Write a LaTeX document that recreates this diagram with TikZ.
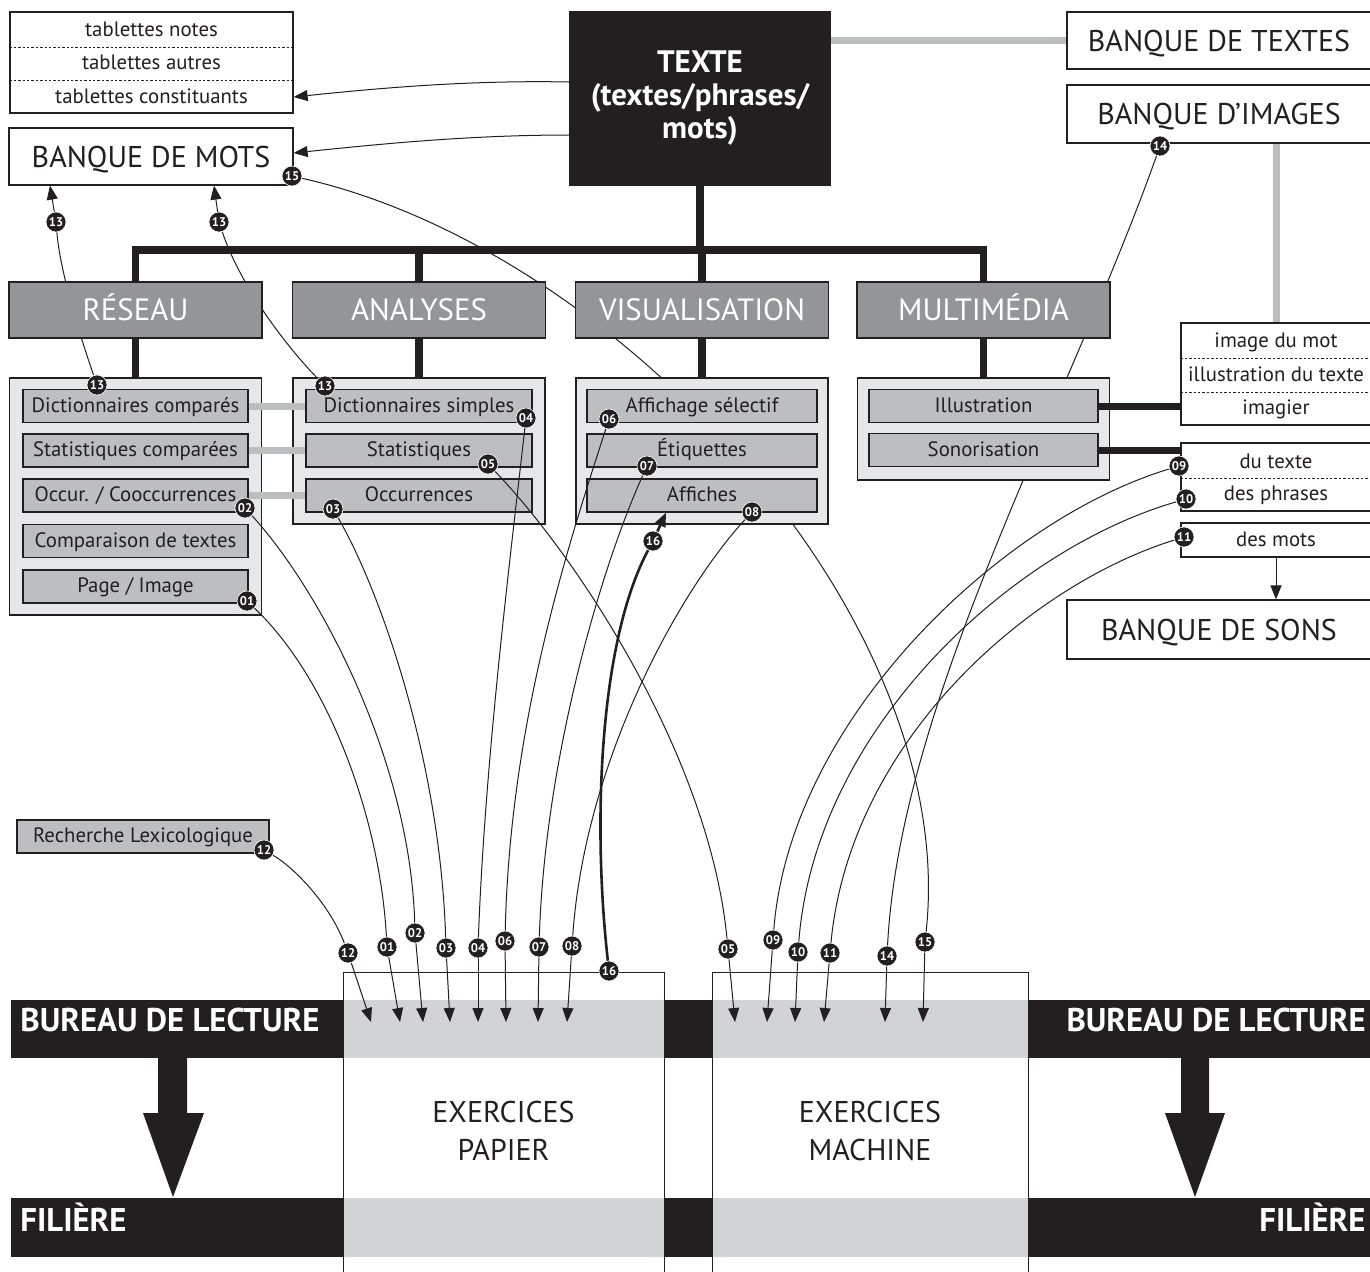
\documentclass[tikz,border=0pt]{standalone}
\usepackage{fontspec}
\setmainfont{PT Sans}
\usetikzlibrary{arrows.meta}
\definecolor{ink}{HTML}{231F20}
\definecolor{catgrey}{HTML}{939598}
\definecolor{grpgrey}{HTML}{E6E7E8}
\definecolor{itmgrey}{HTML}{BCBEC0}
\definecolor{linkgrey}{HTML}{BCBEC0}
\definecolor{colgrey}{HTML}{D1D3D4}
\pgfdeclarelayer{back}
\pgfdeclarelayer{wires}
\pgfdeclarelayer{front}
\pgfsetlayers{back,main,wires,front}
\tikzset{
  boxframe/.style={draw=ink, line width=0.6pt, inner sep=0pt, text=ink},
  bank/.style={boxframe, fill=white, minimum height=28.5pt, font=\fontsize{15}{17}\selectfont, text height=10.6pt, text depth=0pt},
  catbox/.style={boxframe, fill=catgrey, minimum width=126.5pt, minimum height=28pt, text=white, font=\fontsize{15.4}{17}\selectfont, text height=10.8pt, text depth=0pt},
  grp/.style={boxframe, fill=grpgrey, minimum width=126pt},
  itm/.style={boxframe, fill=itmgrey, minimum height=16.5pt, font=\fontsize{10.4}{12}\selectfont, text height=7.4pt, text depth=1pt},
  whitebox/.style={boxframe, fill=white, font=\fontsize{10.4}{12}\selectfont, text height=7.4pt, text depth=1pt},
  lbl/.style={inner sep=0pt, text=ink, font=\fontsize{10.4}{12}\selectfont, text height=7.4pt, text depth=1pt},
  dotsep/.style={draw=ink, line width=0.4pt, dash pattern=on 1.2pt off 1pt},
  badge/.style={circle, fill=ink, draw=white, line width=0.3pt, minimum size=10pt, inner sep=0pt, text=white, font=\bfseries\fontsize{6.3}{7}\selectfont},
  wire/.style={draw=ink, line width=0.5pt},
  endarrow/.style={-{Triangle[length=7pt,width=5.5pt]}},
  blackbar/.style={draw=ink, line width=3.6pt},
  greybar/.style={draw=linkgrey, line width=3.5pt},
  bandtext/.style={inner sep=0pt, text=white, font=\bfseries\fontsize{16.4}{19}\selectfont},
  exotext/.style={inner sep=0pt, text=ink, align=center, font=\fontsize{15}{19}\selectfont},
}
\begin{document}
\begin{tikzpicture}[x=0.5pt, y=-0.5pt]
\useasboundingbox (0,0) rectangle (1370,1271);

% ---------- top boxes
\node[whitebox, minimum width=141.5pt, minimum height=50.5pt] (tab) at (151.5,62.5) {};
\node[lbl] (tn) at (151.5,30) {tablettes notes};
\node[lbl] (ta) at (151.5,63.5) {tablettes autres};
\node[lbl] (tc) at (151.5,97) {tablettes constituants};
\draw[dotsep] (tab.west |- 0,47) -- (tab.east |- 0,47);
\draw[dotsep] (tab.west |- 0,80) -- (tab.east |- 0,80);

\node[bank, minimum width=142pt] (mots) at (151,156.5) {BANQUE DE MOTS};
\node[boxframe, fill=ink, minimum width=130pt, minimum height=86.5pt, text=white, align=center, font=\bfseries\fontsize{15.5}{16.5}\selectfont] (texte) at (700,98.5) {TEXTE\\(textes/phrases/\\mots)};
\node[bank, minimum width=152pt] (btextes) at (1219,40.5) {BANQUE DE TEXTES};
\node[bank, minimum width=152pt, minimum height=29pt] (bimages) at (1219,114) {BANQUE D’IMAGES};

% ---------- categories
\node[catbox] (reseau) at (135.5,310) {RÉSEAU};
\node[catbox] (analyses) at (419,310) {ANALYSES};
\node[catbox] (visu) at (702,310) {VISUALISATION};
\node[catbox] (multi) at (983.5,310) {MULTIMÉDIA};

\draw[blackbar] (texte.south) -- (texte.south |- 0,250);
\draw[blackbar, line join=miter] (reseau.north) -- (reseau.north |- 0,250) -- (multi.north |- 0,250) -- (multi.north);
\draw[blackbar] (analyses.north |- 0,250) -- (analyses.north);
\draw[blackbar] (visu.north |- 0,250) -- (visu.north);

% ---------- groups
\node[grp, minimum height=118.5pt] (greseau) at (135.5,496.5) {};
\node[grp, minimum height=73pt] (ganal) at (419,451) {};
\node[grp, minimum height=73pt] (gvisu) at (702,451) {};
\node[grp, minimum height=51pt] (gmulti) at (983.5,429) {};
\draw[blackbar] (reseau.south) -- (greseau.north);
\draw[blackbar] (analyses.south) -- (ganal.north);
\draw[blackbar] (visu.south) -- (gvisu.north);
\draw[blackbar] (multi.south) -- (gmulti.north);

% ---------- items
\node[itm, minimum width=112.5pt] (dcomp) at (135.5,406) {Dictionnaires comparés};
\node[itm, minimum width=112.5pt] (scomp) at (135.5,450.5) {Statistiques comparées};
\node[itm, minimum width=112.5pt] (occo) at (135.5,495.5) {Occur. / Cooccurrences};
\node[itm, minimum width=112.5pt] (compt) at (135.5,541) {Comparaison de textes};
\node[itm, minimum width=112.5pt] (page) at (135.5,586.5) {Page / Image};

\node[itm, minimum width=113pt] (dsimp) at (419,406) {Dictionnaires simples};
\node[itm, minimum width=113pt] (stat) at (419,450.5) {Statistiques};
\node[itm, minimum width=113pt] (occ) at (419,495.5) {Occurrences};

\node[itm, minimum width=115pt] (affsel) at (702,406) {Affichage sélectif};
\node[itm, minimum width=115pt] (etiq) at (702,450.5) {Étiquettes};
\node[itm, minimum width=115pt] (aff) at (702,495.5) {Affiches};

\node[itm, minimum width=114.5pt] (illu) at (983.5,406) {Illustration};
\node[itm, minimum width=114.5pt] (sono) at (983.5,450) {Sonorisation};

\draw[greybar] (dcomp.east) -- (dsimp.west);
\draw[greybar] (scomp.east) -- (stat.west);
\draw[greybar] (occo.east) -- (occ.west);

% ---------- right side boxes
\node[whitebox, minimum width=95pt, minimum height=51pt] (imgbox) at (1276,374) {};
\node[lbl] (imot) at (1276,341) {image du mot};
\node[lbl] (itxt) at (1276,375) {illustration du texte};
\node[lbl] (imag) at (1276,408) {imagier};
\draw[dotsep] (imgbox.west |- 0,358) -- (imgbox.east |- 0,358);
\draw[dotsep] (imgbox.west |- 0,392) -- (imgbox.east |- 0,392);

\node[whitebox, minimum width=95pt, minimum height=34pt] (sonbox) at (1276,477) {};
\node[lbl] (dutexte) at (1276,462) {du texte};
\node[lbl] (desphr) at (1276,494.5) {des phrases};
\draw[dotsep] (sonbox.west |- 0,478) -- (sonbox.east |- 0,478);

\node[whitebox, minimum width=95pt, minimum height=17pt] (desmots) at (1276,540) {des mots};
\node[bank, minimum width=152pt, minimum height=29.5pt] (bsons) at (1219,629.5) {BANQUE DE SONS};

\draw[blackbar, line width=3.5pt] (illu.east) -- (illu.east -| imgbox.west);
\draw[blackbar, line width=3.5pt] (sono.east) -- (sono.east -| sonbox.west);
\draw[greybar] (imgbox.north |- bimages.south) -- (imgbox.north);
\draw[greybar] (texte.east |- btextes.west) -- (btextes.west);
\draw[wire, endarrow] (desmots.south) -- (desmots.south |- bsons.north);

\node[itm, minimum width=126pt] (rech) at (143,836.5) {Recherche Lexicologique};

% ---------- bottom bands and columns
\fill[ink] (11,1000) rectangle (1372,1058);
\fill[ink] (11,1198) rectangle (1372,1257);
\fill[colgrey] (343,1000) rectangle (664,1058);
\fill[colgrey] (343,1198) rectangle (664,1257);
\fill[colgrey] (712,1000) rectangle (1028,1058);
\fill[colgrey] (712,1198) rectangle (1028,1257);
\node[boxframe, minimum width=160.5pt, minimum height=155pt, anchor=north west] (colp) at (343,972) {};
\node[boxframe, minimum width=158pt, minimum height=155pt, anchor=north west] (colm) at (712,972) {};
\node[exotext] (papier) at (503.5,1131) {EXERCICES\\PAPIER};
\node[exotext] (machine) at (870,1131) {EXERCICES\\MACHINE};

\fill[ink] (158,1057) -- (187,1057) -- (187,1113) -- (204,1113) -- (173,1197) -- (143,1113) -- (158,1113) -- cycle;
\fill[ink] (1181,1057) -- (1209,1057) -- (1209,1113) -- (1225,1113) -- (1195,1197) -- (1165,1113) -- (1181,1113) -- cycle;

\node[bandtext, anchor=base west] (bur1) at (20,1031) {BUREAU DE LECTURE};
\node[bandtext, anchor=base east] (bur2) at (1366,1031) {BUREAU DE LECTURE};
\node[bandtext, anchor=base west] (fil1) at (20,1231) {FILIÈRE};
\node[bandtext, anchor=base east] (fil2) at (1366,1231) {FILIÈRE};

% ---------- badges
\begin{pgfonlayer}{front}
\node[badge] (bu13a) at (97,385) {13};
\node[badge] (bu13b) at (325,386) {13};
\node[badge] (bm13a) at (56,222) {13};
\node[badge] (bm13b) at (219,222) {13};
\node[badge] (bu15) at (292,176) {15};
\node[badge] (bu14) at (1160,146) {14};
\node[badge] (bu01) at (247,601) {01};
\node[badge] (bu02) at (245,508) {02};
\node[badge] (bu03) at (333,509) {03};
\node[badge] (bu04) at (526,418) {04};
\node[badge] (bu05) at (488,464) {05};
\node[badge] (bu06) at (609,419) {06};
\node[badge] (bu07) at (647,466) {07};
\node[badge] (bu08) at (752,512) {08};
\node[badge] (bu16) at (653,541) {16};
\node[badge] (bu09) at (1179,466) {09};
\node[badge] (bu10) at (1186,499) {10};
\node[badge] (bu11) at (1184,537) {11};
\node[badge] (bu12) at (264,850) {12};
\node[badge] (bl12) at (348,953) {12};
\node[badge] (bl01) at (387,947) {01};
\node[badge] (bl02) at (415,933) {02};
\node[badge] (bl03) at (446,948) {03};
\node[badge] (bl04) at (478,948) {04};
\node[badge] (bl06) at (505,941) {06};
\node[badge] (bl07) at (539,947) {07};
\node[badge] (bl08) at (572,946) {08};
\node[badge] (bl16) at (609,971) {16};
\node[badge] (bl05) at (728,949) {05};
\node[badge] (bl09) at (773,940) {09};
\node[badge] (bl10) at (798,952) {10};
\node[badge] (bl11) at (830,953) {11};
\node[badge] (bl14) at (887,956) {14};
\node[badge] (bl15) at (925,942) {15};
\end{pgfonlayer}

\foreach \n/\x in {12/371,01/400,02/423,03/450,04/478,06/506,07/538,08/567,05/735,09/767,10/795,11/824,14/885,15/923}
  \coordinate (t\n) at (\x,1022);

% ---------- wires behind boxes
\begin{pgfonlayer}{back}
\draw[wire] (bu13a) .. controls (78,330) and (60,270) .. (bm13a);
\draw[wire, endarrow] (bm13a) -- (mots.south -| 50,0);
\draw[wire] (bu13b) .. controls (285,345) and (240,285) .. (bm13b);
\draw[wire, endarrow] (bm13b) -- (mots.south -| 214,0);
\draw[wire] (bu14) .. controls (1070,400) and (900,700) .. (bl14);
\draw[wire] (bu15) .. controls (620,250) and (960,620) .. (bl15);
\end{pgfonlayer}

% ---------- wires over boxes
\begin{pgfonlayer}{wires}
\draw[wire, endarrow] (texte.west |- 0,82) .. controls (470,80) and (380,88) .. (tab.east |- 0,97);
\draw[wire, endarrow] (texte.west |- 0,135) .. controls (470,135) and (380,144) .. (mots.east |- 0,153);
\draw[wire] (bu01) .. controls (330,680) and (380,820) .. (bl01);
\draw[wire] (bu02) .. controls (320,590) and (410,760) .. (bl02);
\draw[wire] (bu03) .. controls (380,590) and (440,760) .. (bl03);
\draw[wire] (bu04) .. controls (510,560) and (485,760) .. (bl04);
\draw[wire] (bu05) .. controls (580,560) and (710,760) .. (bl05);
\draw[wire] (bu06) .. controls (570,540) and (510,720) .. (bl06);
\draw[wire] (bu07) .. controls (600,570) and (545,760) .. (bl07);
\draw[wire] (bu08) .. controls (680,590) and (585,760) .. (bl08);
\draw[wire] (bu09) .. controls (1000,520) and (790,720) .. (bl09);
\draw[wire] (bu10) .. controls (1010,550) and (815,730) .. (bl10);
\draw[wire] (bu11) .. controls (1030,585) and (850,740) .. (bl11);
\draw[wire] (bu12) .. controls (295,868) and (330,905) .. (bl12);
\draw[wire, line width=1.3pt] (bl16) .. controls (592,820) and (600,640) .. (bu16);
\draw[wire, line width=1.3pt, endarrow] (bu16) -- (aff.south -| 666,0);
\foreach \n in {12,01,02,03,04,06,07,08,05,09,10,11,14,15}
  \draw[wire, endarrow] (bl\n) -- (t\n);
\end{pgfonlayer}
\end{tikzpicture}
\end{document}
